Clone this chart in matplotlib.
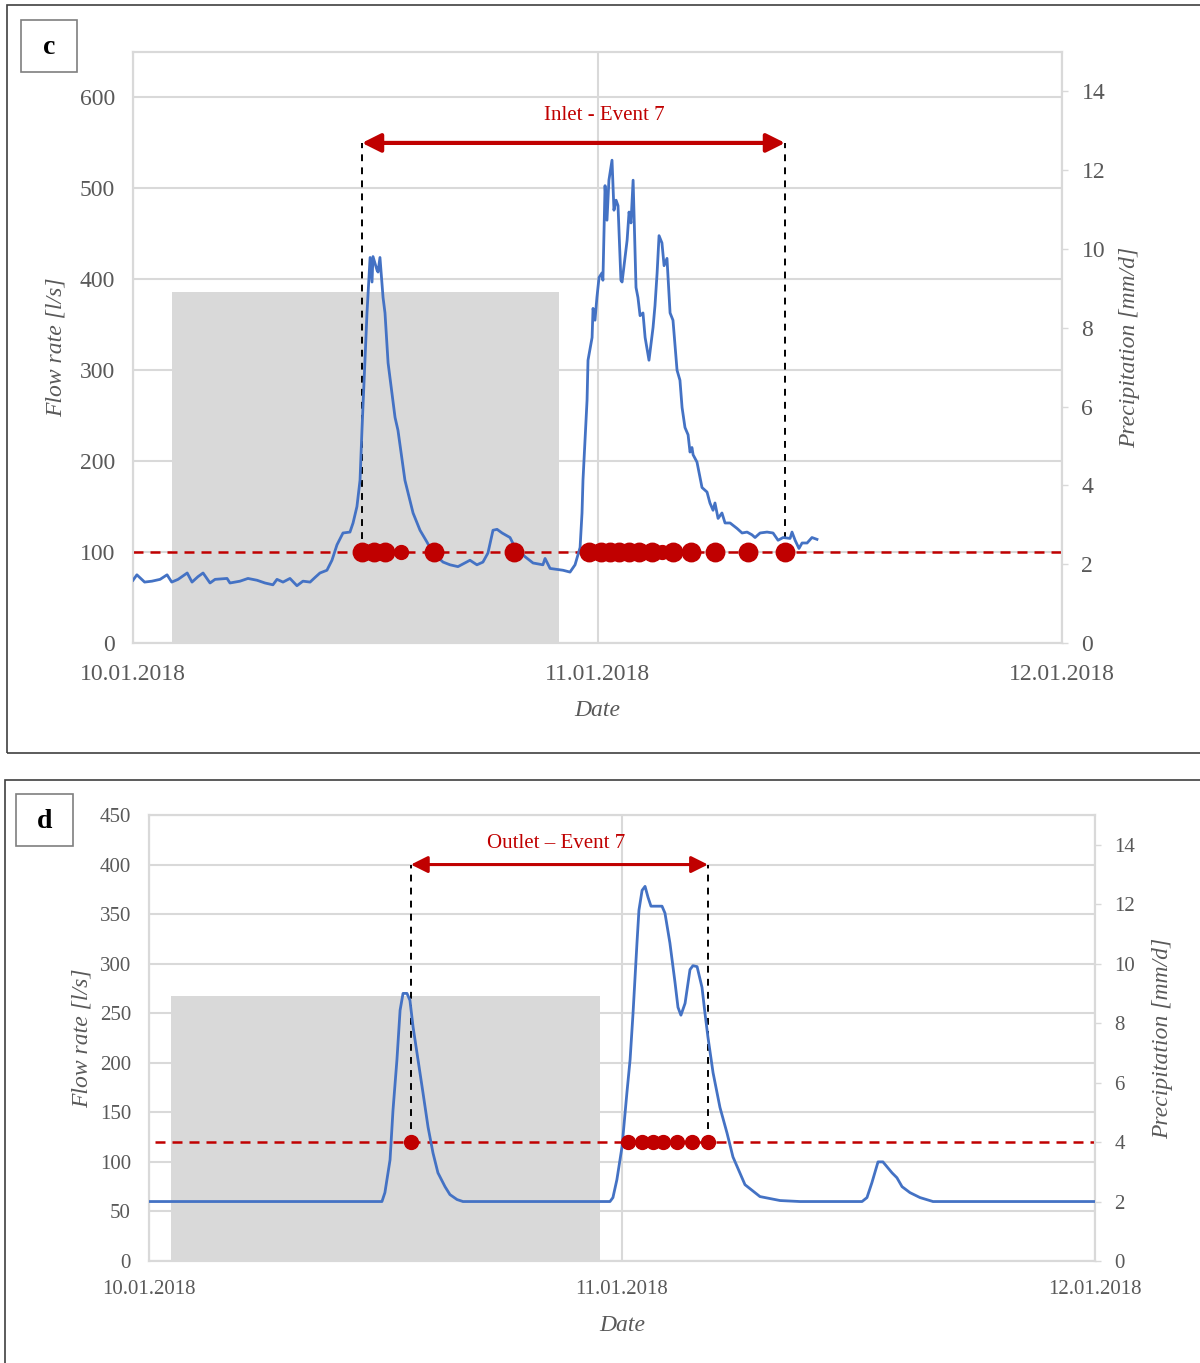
import matplotlib.pyplot as plt
from matplotlib.patches import Rectangle

plt.rcParams['font.family'] = ['Liberation Serif', 'DejaVu Serif']

# --- dane (godziny od 10.01.2018 00:00) ---
date_labels = ["10.01.2018", "11.01.2018", "12.01.2018"]
date_ticks = [0, 24, 48]

# panel c - dopływ
c_hours = [0.0, 0.2, 0.6, 0.98, 1.4, 1.76, 2.0, 2.33, 2.8, 3.05, 3.36, 3.62, 3.98, 4.24, 4.86,
           5.01, 5.53, 5.94, 6.41, 6.82, 7.23, 7.44, 7.75, 8.11, 8.47, 8.78, 9.15, 9.4, 9.66,
           10.02, 10.28, 10.54, 10.85, 11.21, 11.37, 11.57, 11.73, 11.83,
           12.09, 12.25, 12.35, 12.40, 12.61, 12.66, 12.76, 12.92, 13.02, 13.18, 13.54, 13.69,
           14.05, 14.47, 14.83, 15.19, 15.50, 16.02, 16.38, 16.79, 17.41, 17.77, 18.08, 18.34,
           18.60, 18.81, 19.07, 19.48, 19.74, 20.25, 20.67, 21.18, 21.29, 21.55, 22.22, 22.58,
           22.84, 23.10, 23.20, 23.25, 23.46, 23.51, 23.72, 23.77, 23.87, 23.97, 24.08, 24.23,
           24.28, 24.39, 24.49, 24.59, 24.75, 24.85, 24.96, 25.06, 25.21, 25.27, 25.42, 25.53,
           25.63, 25.73, 25.84, 25.99, 26.09, 26.20, 26.35, 26.46, 26.66, 26.87, 26.97, 27.08,
           27.18, 27.33, 27.44, 27.59, 27.75, 27.90, 28.11, 28.26, 28.37, 28.52, 28.68, 28.78,
           28.88, 28.94, 29.14, 29.40, 29.66, 29.81, 29.97, 30.07, 30.23, 30.43, 30.59, 30.85,
           31.21, 31.47, 31.73, 31.98, 32.14, 32.40, 32.76, 33.07, 33.33, 33.59, 33.95, 34.05,
           34.21, 34.41, 34.57, 34.83, 35.08, 35.34]
c_flow = [69, 75, 67, 68, 70, 75, 67, 70, 77, 67, 73, 77, 66, 70, 71,
          66, 68, 71, 69, 66, 64, 70, 67, 71, 63, 68, 67, 72, 77,
          80, 91, 108, 121, 122, 132, 150, 179, 234,
          363, 424, 397, 425, 410, 408, 424, 380, 363, 308, 248, 234,
          179, 143, 124, 111, 99, 89, 86, 84, 91, 86, 89, 99,
          124, 125, 121, 116, 105, 95, 88, 86, 93, 82, 80, 78,
          86, 105, 143, 179, 267, 311, 336, 368, 355, 380, 402, 407,
          399, 503, 465, 509, 531, 476, 487, 481, 399, 397, 424, 443,
          474, 462, 509, 391, 380, 360, 363, 336, 311, 347, 371, 407,
          448, 440, 415, 423, 363, 355, 300, 289, 259, 237, 229, 210,
          215, 207, 199, 171, 166, 154, 146, 154, 137, 143, 132, 132,
          126, 121, 122, 119, 116, 121, 122, 121, 113, 116, 115, 122,
          113, 104, 110, 110, 116, 114]
c_precip = 8.9
c_threshold = 100
c_event = (11.83, 33.69)
c_dots = [11.83, 12.45, 13.02, 15.55, 19.69, 23.56, 24.18, 24.65, 25.11, 25.63, 26.14,
          26.82, 27.90, 28.83, 30.07, 31.78, 33.69]
c_dots_small = [13.85, 27.33]

# panel d - odpływ
d_hours = [0, 11.82, 11.97, 12.23, 12.38, 12.58, 12.74, 12.89, 13.09, 13.24, 13.40, 13.65,
           13.90, 14.16, 14.41, 14.66, 15.02, 15.27, 15.63, 15.93, 23.39, 23.54, 23.74, 24.00,
           24.25, 24.41, 24.56, 24.76, 24.86, 25.02, 25.17, 25.32, 25.47, 26.03, 26.18, 26.43,
           26.69, 26.84, 26.99, 27.20, 27.45, 27.60, 27.81, 28.06, 28.21, 28.36, 28.62, 28.97,
           29.33, 29.63, 30.24, 31.00, 32.02, 33.03, 36.18, 36.43, 36.68, 36.99, 37.24, 37.70,
           37.95, 38.21, 38.61, 39.12, 39.78, 48.0]
d_flow = [60, 60, 69, 102, 152, 203, 253, 270, 270, 263, 236, 203,
          170, 135, 109, 89, 75, 67, 62, 60, 60, 64, 82, 115,
          170, 203, 250, 321, 354, 374, 378, 367, 358, 358, 351, 321,
          281, 256, 248, 260, 294, 298, 297, 276, 250, 226, 190, 155,
          129, 105, 77, 65, 61, 60, 60, 64, 79, 100, 100, 89,
          84, 75, 69, 64, 60, 60]
d_precip = 8.9
d_threshold = 120
d_event = (13.29, 28.36)
d_dots = [13.29, 24.30, 25.02, 25.57, 26.08, 26.79, 27.55, 28.36]

BLUE = "#4472c4"
RED = "#c00000"
GRID = "#d9d9d9"
TXT = "#595959"


def draw_panel(fig, rect, hours, flow, precip, bar_width, threshold, thr_start, event, dots,
               dots_small, flow_max, flow_ticks, event_label, arrow_y, label_xy, sizes):
    tick_fs, lab_fs, ev_fs, dot_ms, arrow_lw, arrow_ms, xpad = sizes
    ax_p = fig.add_axes(rect)
    ax_f = ax_p.twinx()

    # opad (oś prawa)
    ax_p.bar([12], [precip], width=bar_width, color=GRID, zorder=1)
    ax_p.set_ylim(0, 15)
    ax_p.set_yticks(range(0, 15, 2))
    ax_p.yaxis.tick_right()
    ax_p.yaxis.set_label_position('right')
    ax_p.set_xlim(0, 48)
    ax_p.set_xticks(date_ticks)
    ax_p.set_xticklabels(date_labels)
    ax_p.grid(axis='x', color=GRID, lw=1.5)
    ax_p.set_axisbelow(True)

    # przepływ (oś lewa)
    ax_f.yaxis.tick_left()
    ax_f.yaxis.set_label_position('left')
    ax_f.set_ylim(0, flow_max)
    ax_f.set_yticks(flow_ticks)
    ax_f.grid(axis='y', color=GRID, lw=1.5, zorder=0)
    ax_f.plot(hours, flow, color=BLUE, lw=2.0, zorder=3)
    ax_f.hlines(threshold, thr_start, 48, color=RED, lw=1.8, linestyles=(0, (4, 2.8)), zorder=2)
    for x in event:
        ax_f.plot([x, x], [threshold, arrow_y], color='black', lw=1.4,
                  dashes=(3.5, 3.2), zorder=2)
    ax_f.plot(dots, [threshold] * len(dots), 'o', color=RED, ms=dot_ms, zorder=4)
    if dots_small:
        ax_f.plot(dots_small, [threshold] * len(dots_small), 'o', color=RED,
                  ms=dot_ms * 0.75, zorder=4)
    ax_f.annotate('', xy=(event[1], arrow_y), xytext=(event[0], arrow_y),
                  arrowprops=dict(arrowstyle='<|-|>', color=RED, lw=arrow_lw,
                                  mutation_scale=arrow_ms, shrinkA=0, shrinkB=0))
    ax_f.text(label_xy[0], label_xy[1], event_label, color=RED, fontsize=ev_fs,
              ha='center', va='center')

    for a in (ax_p, ax_f):
        for s in a.spines.values():
            s.set_color(GRID)
            s.set_linewidth(1.5)
    ax_f.tick_params(axis='y', length=0, labelsize=tick_fs, labelcolor=TXT, pad=13)
    ax_p.tick_params(axis='y', length=4, width=1, color=GRID, labelsize=tick_fs,
                     labelcolor=TXT, pad=10)
    ax_p.tick_params(axis='x', length=0, labelsize=tick_fs, labelcolor=TXT, pad=xpad)

    ax_f.set_ylabel('Flow rate [l/s]', fontsize=lab_fs, style='italic', color=TXT)
    ax_p.set_ylabel('Precipitation [mm/d]', fontsize=lab_fs, style='italic', color=TXT)
    ax_p.set_xlabel('Date', fontsize=lab_fs, style='italic', color=TXT)
    return ax_p, ax_f


fig = plt.figure(figsize=(12, 13.63), dpi=100)

# ramki paneli
fig.patches.append(Rectangle((7 / 1200, 1 - 753 / 1363), 1.0, 748 / 1363, transform=fig.transFigure,
                             fill=False, edgecolor='#404040', lw=1.2, clip_on=False))
fig.patches.append(Rectangle((5 / 1200, -0.01), 1.0, 1 - 780 / 1363 + 0.01, transform=fig.transFigure,
                             fill=False, edgecolor='#404040', lw=1.2, clip_on=False))
fig.patches.append(Rectangle((21 / 1200, 1 - 72 / 1363), 56 / 1200, 52 / 1363, transform=fig.transFigure,
                             fill=False, edgecolor='#7f7f7f', lw=1.2))
fig.patches.append(Rectangle((16 / 1200, 1 - 846 / 1363), 57 / 1200, 52 / 1363, transform=fig.transFigure,
                             fill=False, edgecolor='#7f7f7f', lw=1.2))
fig.text(49 / 1200, 1 - 48 / 1363, 'c', fontsize=20, fontweight='bold', ha='center', va='center')
fig.text(44.5 / 1200, 1 - 822 / 1363, 'd', fontsize=20, fontweight='bold', ha='center', va='center')

# panel c
ax_p, ax_f = draw_panel(fig, [133 / 1200, 1 - 643 / 1363, 929 / 1200, 591 / 1363],
                        c_hours, c_flow, c_precip, 20, c_threshold, 0, c_event, c_dots,
                        c_dots_small, 650, range(0, 601, 100), 'Inlet - Event 7', 550,
                        (24.35, 580), (17, 17, 15, 13.3, 3, 28, 15))
ax_f.yaxis.set_label_coords(-0.071, 0.5)
ax_p.yaxis.set_label_coords(1.061, 0.5)
ax_p.xaxis.set_label_coords(0.5, -0.096)

# panel d
ax_p, ax_f = draw_panel(fig, [149 / 1200, 1 - 1261 / 1363, 946 / 1200, 446 / 1363],
                        d_hours, d_flow, d_precip, 21.8, d_threshold, 0.3, d_event, d_dots,
                        [], 450, range(0, 451, 50), 'Outlet – Event 7', 400,
                        (20.67, 421), (15, 17, 15, 10, 2.2, 25, 14))
ax_f.yaxis.set_label_coords(-0.060, 0.5)
ax_p.yaxis.set_label_coords(1.060, 0.5)
ax_p.xaxis.set_label_coords(0.5, -0.12)

fig.savefig('out.png', dpi=100)
